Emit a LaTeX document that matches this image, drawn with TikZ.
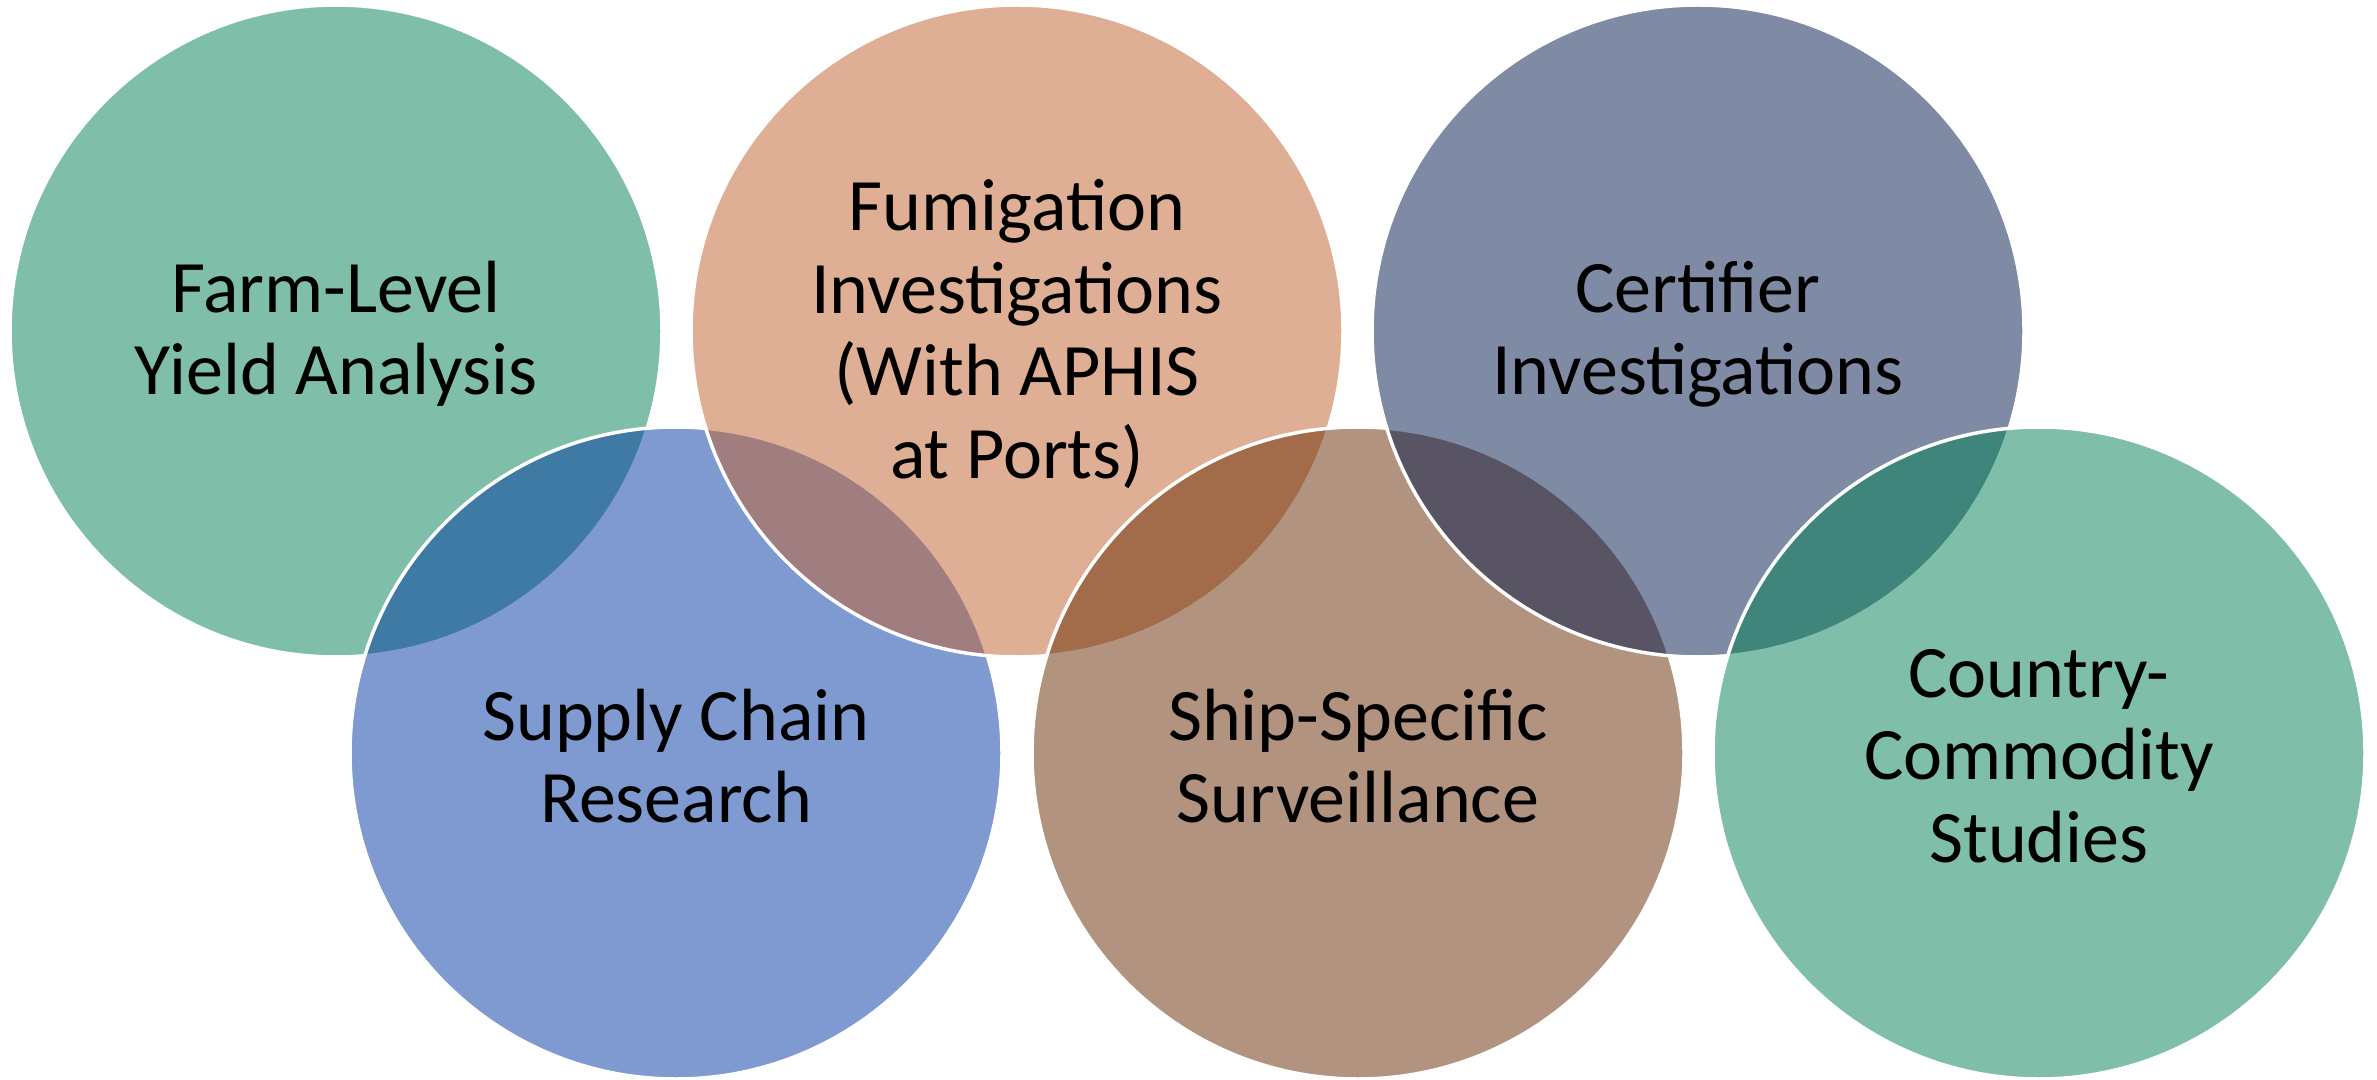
\documentclass[tikz,border=0pt]{standalone}
\usepackage{fontspec}
\setmainfont{Carlito}
\definecolor{cgreen}{RGB}{0,129,85}
\definecolor{cblue}{RGB}{0,55,163}
\definecolor{corange}{RGB}{193,97,45}
\definecolor{cslate}{RGB}{0,23,75}
\definecolor{cbrown}{RGB}{103,41,0}
\tikzset{
  venn/.style={circle, minimum size=326pt, inner sep=0pt, outer sep=0pt,
    fill opacity=0.5, draw=white, draw opacity=1, line width=1.75pt},
  label/.style={align=center, inner sep=0pt, text=black, yshift=-1.5pt,
    font=\fontsize{37}{41.2}\selectfont}
}
\begin{document}
\begin{tikzpicture}[x=0.5pt,y=-0.5pt]
\useasboundingbox[fill=white] (0,0) rectangle (2377,1080);
\node[venn, fill=cgreen]  (c1) at (336,331) {};
\node[venn, fill=cblue]   (c2) at (676,753) {};
\node[venn, fill=corange] (c3) at (1017,331) {};
\node[venn, fill=cbrown]  (c4) at (1358,753) {};
\node[venn, fill=cslate]  (c5) at (1698,331) {};
\node[venn, fill=cgreen]  (c6) at (2039,753) {};
\node[label] (t1) at (c1.center) {Farm-Level\\Yield Analysis};
\node[label] (t2) at (c2.center) {Supply Chain\\Research};
\node[label] (t3) at (c3.center) {Fumigation\\Investigations\\(With APHIS\\at Ports)};
\node[label] (t4) at (c4.center) {Ship-Specific\\Surveillance};
\node[label] (t5) at (c5.center) {Certifier\\Investigations};
\node[label] (t6) at (c6.center) {Country-\\Commodity\\Studies};
\end{tikzpicture}
\end{document}
